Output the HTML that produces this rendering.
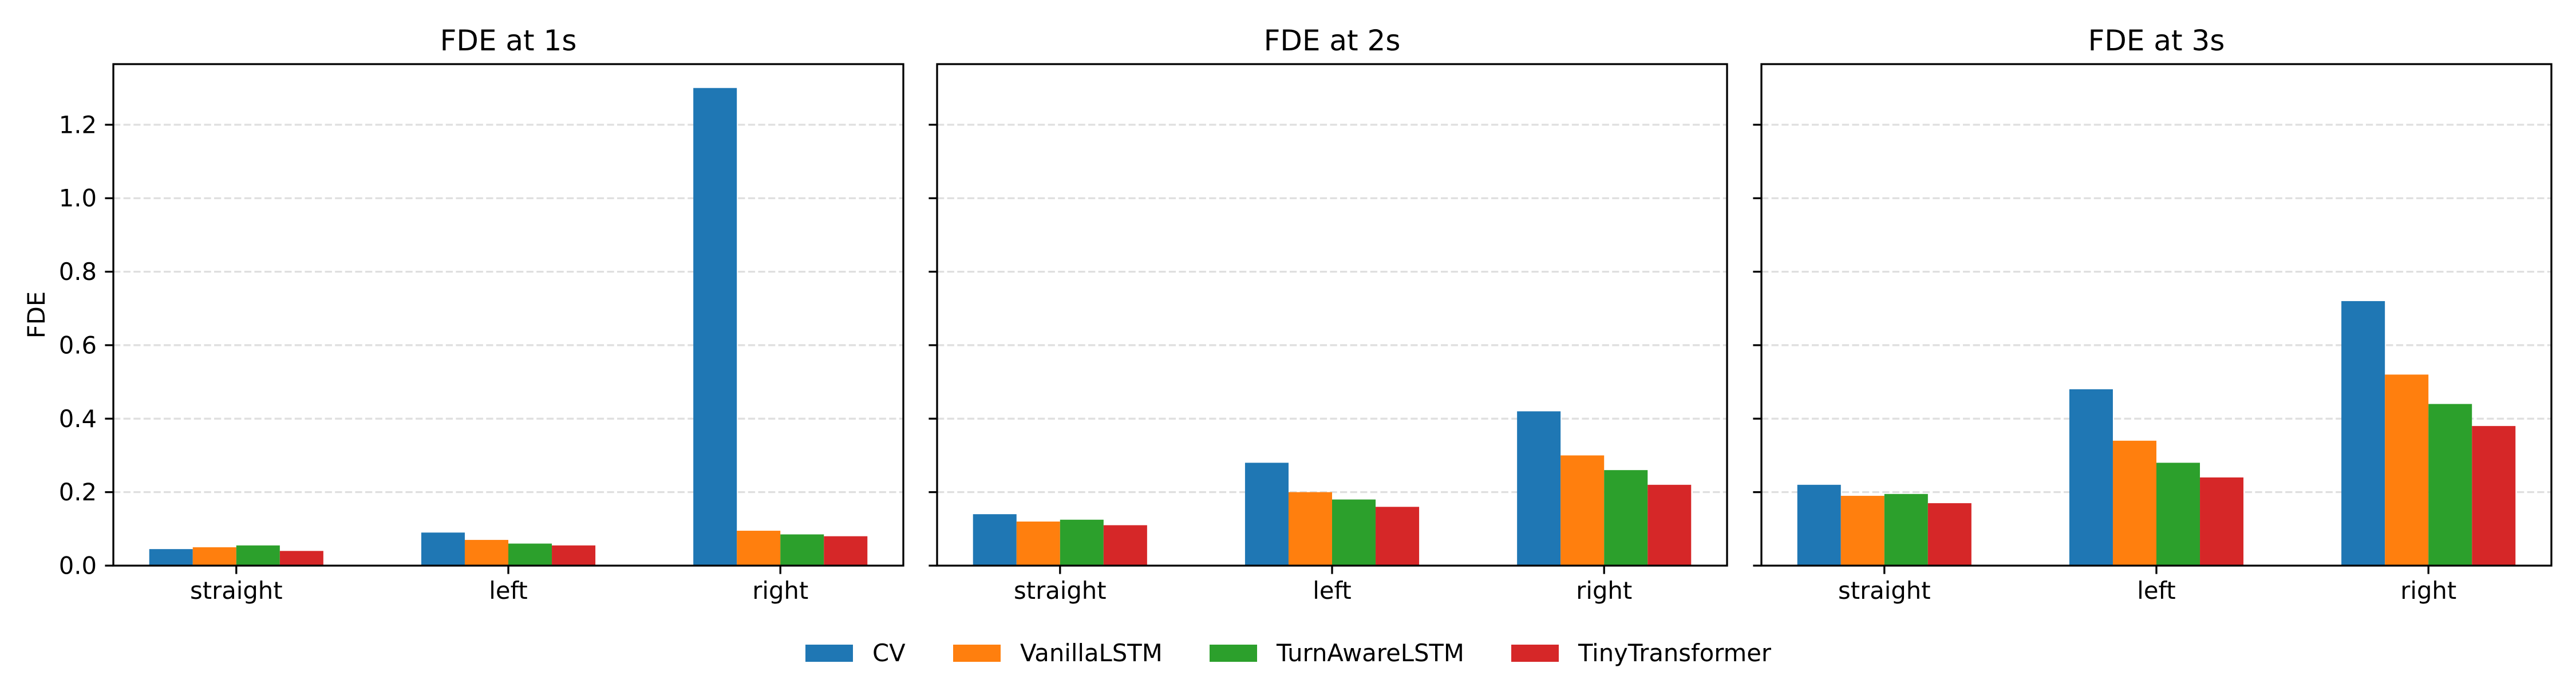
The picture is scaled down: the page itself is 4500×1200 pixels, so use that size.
<!DOCTYPE html>
<html><head><meta charset="utf-8"><style>
html,body{margin:0;padding:0;background:#fff;}
svg{display:block;font-family:"DejaVu Sans","Liberation Sans",sans-serif;}
</style></head><body>
<svg id="chart" width="4500" height="1200" viewBox="0 0 4500 1200" xmlns="http://www.w3.org/2000/svg"></svg>
<script>
const categories = ["straight", "left", "right"];
const seriesNames = ["CV", "VanillaLSTM", "TurnAwareLSTM", "TinyTransformer"];
const panelTitles = ["FDE at 1s", "FDE at 2s", "FDE at 3s"];
const fde1sCV = [0.045, 0.09, 1.30];
const fde1sVanilla = [0.05, 0.07, 0.095];
const fde1sTurn = [0.055, 0.06, 0.085];
const fde1sTiny = [0.04, 0.055, 0.08];
const fde2sCV = [0.14, 0.28, 0.42];
const fde2sVanilla = [0.12, 0.20, 0.30];
const fde2sTurn = [0.125, 0.18, 0.26];
const fde2sTiny = [0.11, 0.16, 0.22];
const fde3sCV = [0.22, 0.48, 0.72];
const fde3sVanilla = [0.19, 0.34, 0.52];
const fde3sTurn = [0.195, 0.28, 0.44];
const fde3sTiny = [0.17, 0.24, 0.38];
const yTicks = [0.0, 0.2, 0.4, 0.6, 0.8, 1.0, 1.2];
const yTickLabels = ["0.0", "0.2", "0.4", "0.6", "0.8", "1.0", "1.2"];

const panelData = [
  [fde1sCV, fde1sVanilla, fde1sTurn, fde1sTiny],
  [fde2sCV, fde2sVanilla, fde2sTurn, fde2sTiny],
  [fde3sCV, fde3sVanilla, fde3sTurn, fde3sTiny]
];
const colors = ["#1f77b4", "#ff7f0e", "#2ca02c", "#d62728"];
const NS = "http://www.w3.org/2000/svg";
const svg = document.getElementById("chart");
function mk(tag, attrs, parent) {
  const e = document.createElementNS(NS, tag);
  for (const k in attrs) e.setAttribute(k, attrs[k]);
  (parent || svg).appendChild(e);
  return e;
}
const panelLeft = [198, 1637, 3077];
const panelW = 1380;
const axTop = 112, axBottom = 988;
let ymax = 0;
panelData.forEach(p => p.forEach(s => s.forEach(v => { if (v > ymax) ymax = v; })));
ymax *= 1.05;
const yScale = v => axBottom - v / ymax * (axBottom - axTop);
const barW = 0.16;
const xMin = -0.452, xMax = 2.452;

panelData.forEach((series, pi) => {
  const L = panelLeft[pi];
  const xScale = x => L + (x - xMin) / (xMax - xMin) * panelW;
  const g = mk("g", {});
  
  
  yTicks.forEach((t) => {
    if (t === 0) return;
    const gl = mk("line", {x1: L, x2: L + panelW, y1: yScale(t), y2: yScale(t), stroke: "#b0b0b0", "stroke-opacity": 0.4, "stroke-width": 3.3, "stroke-dasharray": "12.3,5.3"}, g);
    
    
  });
  series.forEach((vals, si) => {
    vals.forEach((v, ci) => {
      const xc = ci + (si - 1.5) * barW;
      const x0 = xScale(xc - barW / 2), x1 = xScale(xc + barW / 2);
      const r = mk("rect", {x: x0, y: yScale(v), width: x1 - x0, height: axBottom - yScale(v), fill: colors[si]}, g);
      
      
    });
  });
  const fr = mk("rect", {x: L, y: axTop, width: panelW, height: axBottom - axTop, fill: "none", stroke: "#000", "stroke-width": 3.3}, g);
  
  
  yTicks.forEach((t, ti) => {
    mk("line", {x1: L - 14.6, x2: L, y1: yScale(t), y2: yScale(t), stroke: "#000", "stroke-width": 3.3}, g);
    if (pi === 0) {
      const tl = mk("text", {x: L - 29, y: yScale(t) + 14.5, "text-anchor": "end", "font-size": 41.7, fill: "#000"}, g);
      tl.textContent = yTickLabels[ti];
      
      
    }
  });
  categories.forEach((c, ci) => {
    const x = xScale(ci);
    mk("line", {x1: x, x2: x, y1: axBottom, y2: axBottom + 14.6, stroke: "#000", "stroke-width": 3.3}, g);
    const tl = mk("text", {x: x, y: axBottom + 58, "text-anchor": "middle", "font-size": 41.7, fill: "#000"}, g);
    tl.textContent = c;
    
    
  });
  const tt = mk("text", {x: L + panelW / 2, y: 88, "text-anchor": "middle", "font-size": 50, fill: "#000"}, g);
  tt.textContent = panelTitles[pi];
  
  
});
const yl = mk("text", {x: 0, y: 0, transform: "translate(78,550) rotate(-90)", "text-anchor": "middle", "font-size": 41.7, fill: "#000"});
yl.textContent = "FDE";


const patchX = [1407, 1665, 2113, 2640];
seriesNames.forEach((n, i) => {
  const g = mk("g", {});
  
  
  mk("rect", {x: patchX[i], y: 1126, width: 83, height: 30, fill: colors[i]}, g);
  const t = mk("text", {x: patchX[i] + 117, y: 1155, "font-size": 41.7, fill: "#000"}, g);
  t.textContent = n;
});
</script>
</body></html>
